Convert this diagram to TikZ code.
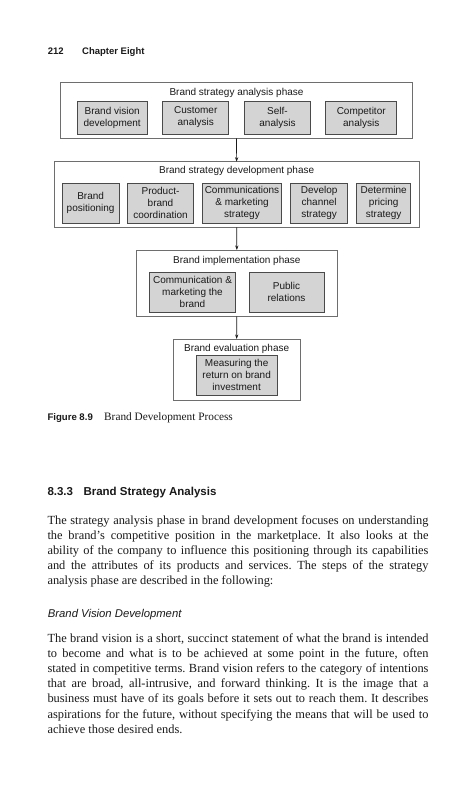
\documentclass[tikz,border=0pt]{standalone}
\usepackage{fontspec}
\setmainfont{Liberation Serif}
\setsansfont{Liberation Sans}
\usetikzlibrary{arrows.meta}
\frenchspacing
\definecolor{boxfill}{HTML}{D4D4D4}
\definecolor{boxline}{HTML}{4A4A4A}
\definecolor{outline}{HTML}{6E6E6E}
\definecolor{ink}{HTML}{1A1A1A}
\tikzset{
  ibox/.style={draw=boxline, fill=boxfill, line width=0.7pt, inner sep=0pt, outer sep=0pt,
    align=center, font=\sffamily\fontsize{10}{12}\selectfont, text=ink},
  obox/.style={draw=outline, line width=0.7pt, inner sep=0pt, outer sep=0pt},
  phase/.style={font=\sffamily\fontsize{10}{12}\selectfont, text=ink, anchor=base, inner sep=0pt},
  flow/.style={draw=ink, line width=0.7pt, -{Stealth[length=4.5pt,width=3.2pt]}},
  body/.style={anchor=base west, inner sep=0pt, font=\fontsize{12.4}{15}\selectfont, text=ink},
  hdr/.style={anchor=base west, inner sep=0pt, text=ink},
}
\begin{document}
\begin{tikzpicture}[x=1pt,y=-1pt]
\useasboundingbox (0,0) rectangle (472,800);
\fill[white] (0,0) rectangle (472,800);

% running head
\node[hdr, font=\sffamily\bfseries\fontsize{9.5}{11}\selectfont] (pg) at (47.7,54.2) {212};
\node[hdr, font=\sffamily\bfseries\fontsize{9.5}{11}\selectfont] (ch) at (82,54.2) {Chapter Eight};

% phase 1
\node[obox, minimum width=351.6pt, minimum height=56pt] (ob1) at (236.5,110.3) {};
\node[phase] (t1) at (236.5,95) {Brand strategy analysis phase};
\node[ibox, minimum width=70.3pt, minimum height=33pt] (b11) at (112.15,117.5) {Brand vision\\development};
\node[ibox, minimum width=66pt, minimum height=33pt] (b12) at (195.7,117.5) {Customer\\analysis};
\node[ibox, minimum width=66.4pt, minimum height=33pt] (b13) at (277.5,117.5) {Self-\\analysis};
\node[ibox, minimum width=71pt, minimum height=33pt] (b14) at (361.2,117.5) {Competitor\\analysis};

% phase 2
\node[obox, minimum width=365.3pt, minimum height=65.6pt] (ob2) at (236.65,194.5) {};
\node[phase] (t2) at (236.65,173.5) {Brand strategy development phase};
\node[ibox, minimum width=56.7pt, minimum height=40pt] (b21) at (90.65,203.3) {Brand\\positioning};
\node[ibox, minimum width=66.4pt, minimum height=40pt] (b22) at (160.5,203.3) {Product-\\brand\\coordination};
\node[ibox, minimum width=79.4pt, minimum height=40pt] (b23) at (242,203.3) {Communications\\\& marketing\\strategy};
\node[ibox, minimum width=57pt, minimum height=40pt] (b24) at (319.2,203.3) {Develop\\channel\\strategy};
\node[ibox, minimum width=54pt, minimum height=40pt] (b25) at (383.7,203.3) {Determine\\pricing\\strategy};

% phase 3
\node[obox, minimum width=201.7pt, minimum height=66.3pt] (ob3) at (236.85,283.15) {};
\node[phase] (t3) at (236.85,263) {Brand implementation phase};
\node[ibox, minimum width=86.4pt, minimum height=40pt] (b31) at (192.5,292.3) {Communication \&\\marketing the\\brand};
\node[ibox, minimum width=75pt, minimum height=40pt] (b32) at (286.5,292.3) {Public\\relations};

% phase 4
\node[obox, minimum width=126.7pt, minimum height=61.3pt] (ob4) at (236.65,369.65) {};
\node[phase] (t4) at (236.65,351.5) {Brand evaluation phase};
\node[ibox, minimum width=80.7pt, minimum height=40.7pt] (b41) at (236.65,375.35) {Measuring the\\return on brand\\investment};

% connectors
\draw[flow] (ob1.south) -- (ob2.north);
\draw[flow] (ob2.south) -- (ob3.north);
\draw[flow] (ob3.south) -- (ob4.north);

% caption
\node[hdr, font=\sffamily\bfseries\fontsize{9.6}{11}\selectfont] (capA) at (47.3,420) {Figure 8.9};
\node[hdr, font=\fontsize{11.3}{13}\selectfont] (capB) at (104,420) {Brand Development Process};

% section heading
\node[hdr, font=\sffamily\bfseries\fontsize{11.5}{13}\selectfont] (secA) at (47.3,495) {8.3.3};
\node[hdr, font=\sffamily\bfseries\fontsize{11.5}{13}\selectfont] (secB) at (83.3,495) {Brand Strategy Analysis};

% paragraph 1
\node[body] (p1a) at (47.3,524) {\makebox[381pt][s]{The strategy analysis phase in brand development focuses on understanding}};
\node[body] (p1b) at (47.3,539.2) {\makebox[381pt][s]{the brand’s competitive position in the marketplace. It also looks at the}};
\node[body] (p1c) at (47.3,554.4) {\makebox[381pt][s]{ability of the company to influence this positioning through its capabilities}};
\node[body] (p1d) at (47.3,569.6) {\makebox[381pt][s]{and the attributes of its products and services. The steps of the strategy}};
\node[body] (p1e) at (47.3,584.8) {analysis phase are described in the following:};

% subheading
\node[hdr, font=\sffamily\itshape\fontsize{11.3}{13}\selectfont] (sub) at (47.7,617) {Brand Vision Development};

% paragraph 2
\node[body] (p2a) at (47.3,642) {\makebox[381pt][s]{The brand vision is a short, succinct statement of what the brand is intended}};
\node[body] (p2b) at (47.3,657.2) {\makebox[381pt][s]{to become and what is to be achieved at some point in the future, often}};
\node[body] (p2c) at (47.3,672.4) {\makebox[381pt][s]{stated in competitive terms. Brand vision refers to the category of intentions}};
\node[body] (p2d) at (47.3,687.6) {\makebox[381pt][s]{that are broad, all-intrusive, and forward thinking. It is the image that a}};
\node[body] (p2e) at (47.3,702.8) {\makebox[381pt][s]{business must have of its goals before it sets out to reach them. It describes}};
\node[body] (p2f) at (47.3,718) {\makebox[381pt][s]{aspirations for the future, without specifying the means that will be used to}};
\node[body] (p2g) at (47.3,733.2) {achieve those desired ends.};
\end{tikzpicture}
\end{document}
